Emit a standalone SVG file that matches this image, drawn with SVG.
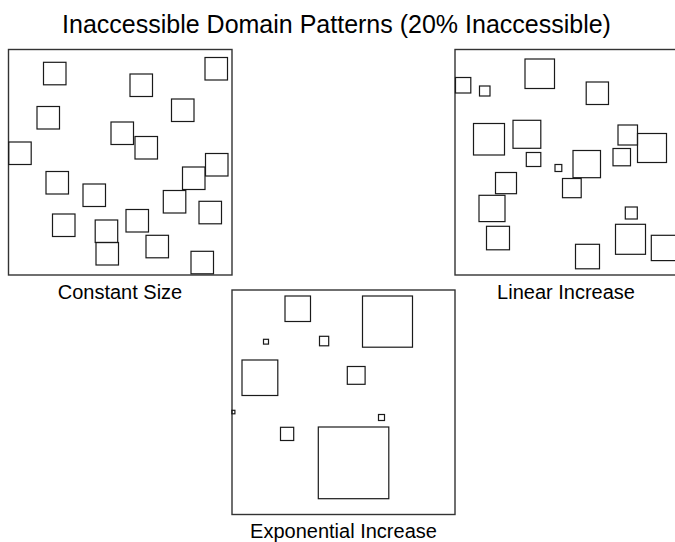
<svg xmlns="http://www.w3.org/2000/svg" width="675" height="542" viewBox="0 0 675 542">
<style>
text{font-family:"Liberation Sans",Arial,sans-serif;fill:#000}
.t{font-size:25px}
.l{font-size:20px}
.f{fill:none;stroke:#333;stroke-width:1.4}
.s{fill:none;stroke:#1a1a1a;stroke-width:1.2}
</style>
<rect width="675" height="542" fill="#fff"/>
<text class="t" x="336.5" y="33" text-anchor="middle">Inaccessible Domain Patterns (20% Inaccessible)</text>

<g id="constant-size">
<rect class="f" x="8.5" y="49.5" width="223.5" height="225.5"/>
<g class="s">
<rect x="43.5" y="62.3" width="22.5" height="22.5"/>
<rect x="205" y="57.5" width="22.5" height="22.5"/>
<rect x="130" y="74" width="22.5" height="22.5"/>
<rect x="171.5" y="99" width="22.5" height="22.5"/>
<rect x="37" y="106.5" width="22.5" height="22.5"/>
<rect x="111" y="122" width="22.5" height="22.5"/>
<rect x="135" y="136.5" width="22.5" height="22.5"/>
<rect x="8.7" y="142" width="22.5" height="22.5"/>
<rect x="205.5" y="153.5" width="22.5" height="22.5"/>
<rect x="182.5" y="167" width="22.5" height="22.5"/>
<rect x="46" y="171.5" width="22.5" height="22.5"/>
<rect x="83" y="184" width="22.5" height="22.5"/>
<rect x="163.3" y="190.5" width="22.5" height="22.5"/>
<rect x="199" y="201.3" width="22.5" height="22.5"/>
<rect x="52.5" y="214" width="22.5" height="22.5"/>
<rect x="126" y="209.5" width="22.5" height="22.5"/>
<rect x="95.2" y="220" width="22.5" height="22.5"/>
<rect x="96" y="242.5" width="22.5" height="22.5"/>
<rect x="146" y="235.3" width="22.5" height="22.5"/>
<rect x="191" y="251.3" width="22.5" height="22.5"/>
</g>
<text class="l" x="120" y="299" text-anchor="middle">Constant Size</text>
</g>

<g id="linear-increase">
<rect class="f" x="455" y="49.5" width="225" height="225.5"/>
<g class="s">
<rect x="525" y="59" width="29.5" height="29.5"/>
<rect x="455.5" y="77.5" width="15.3" height="15.5"/>
<rect x="479.5" y="86" width="10.5" height="10"/>
<rect x="586.2" y="82" width="22.3" height="22.5"/>
<rect x="473.5" y="123.5" width="31" height="31.5"/>
<rect x="513" y="120.3" width="27.8" height="28"/>
<rect x="618" y="125" width="19.5" height="20"/>
<rect x="637.5" y="133.5" width="29" height="29"/>
<rect x="526.3" y="152.5" width="14.5" height="14"/>
<rect x="613" y="148.5" width="17.5" height="17.3"/>
<rect x="555" y="164.5" width="6.8" height="7"/>
<rect x="573" y="150.5" width="27.5" height="27.2"/>
<rect x="495.5" y="172.5" width="21" height="21.2"/>
<rect x="562.5" y="178.5" width="18.7" height="19.2"/>
<rect x="479" y="195.3" width="26" height="26.3"/>
<rect x="625.3" y="207" width="12" height="12"/>
<rect x="486.5" y="226.3" width="23" height="23.5"/>
<rect x="615.5" y="224.3" width="30" height="30"/>
<rect x="651.3" y="235.3" width="26" height="25.3"/>
<rect x="575.5" y="244.3" width="24" height="24.5"/>
</g>
<text class="l" x="566" y="298.5" text-anchor="middle">Linear Increase</text>
</g>

<g id="exponential-increase">
<rect class="f" x="232" y="290" width="223" height="224.5"/>
<g class="s">
<rect x="285" y="296" width="25.5" height="25.5"/>
<rect x="362.5" y="296" width="50" height="51.2"/>
<rect x="263.5" y="339.3" width="5" height="4.8"/>
<rect x="319.5" y="336.3" width="9.2" height="9.5"/>
<rect x="242" y="360" width="35.8" height="35.5"/>
<rect x="347.3" y="366.5" width="17.8" height="17.8"/>
<rect x="231.9" y="410.3" width="3" height="3.5"/>
<rect x="378.5" y="414.5" width="6" height="6"/>
<rect x="280.5" y="427.3" width="13.2" height="13.2"/>
<rect x="318.3" y="427" width="70.5" height="71.7"/>
</g>
<text class="l" x="343.5" y="538" text-anchor="middle">Exponential Increase</text>
</g>
</svg>
